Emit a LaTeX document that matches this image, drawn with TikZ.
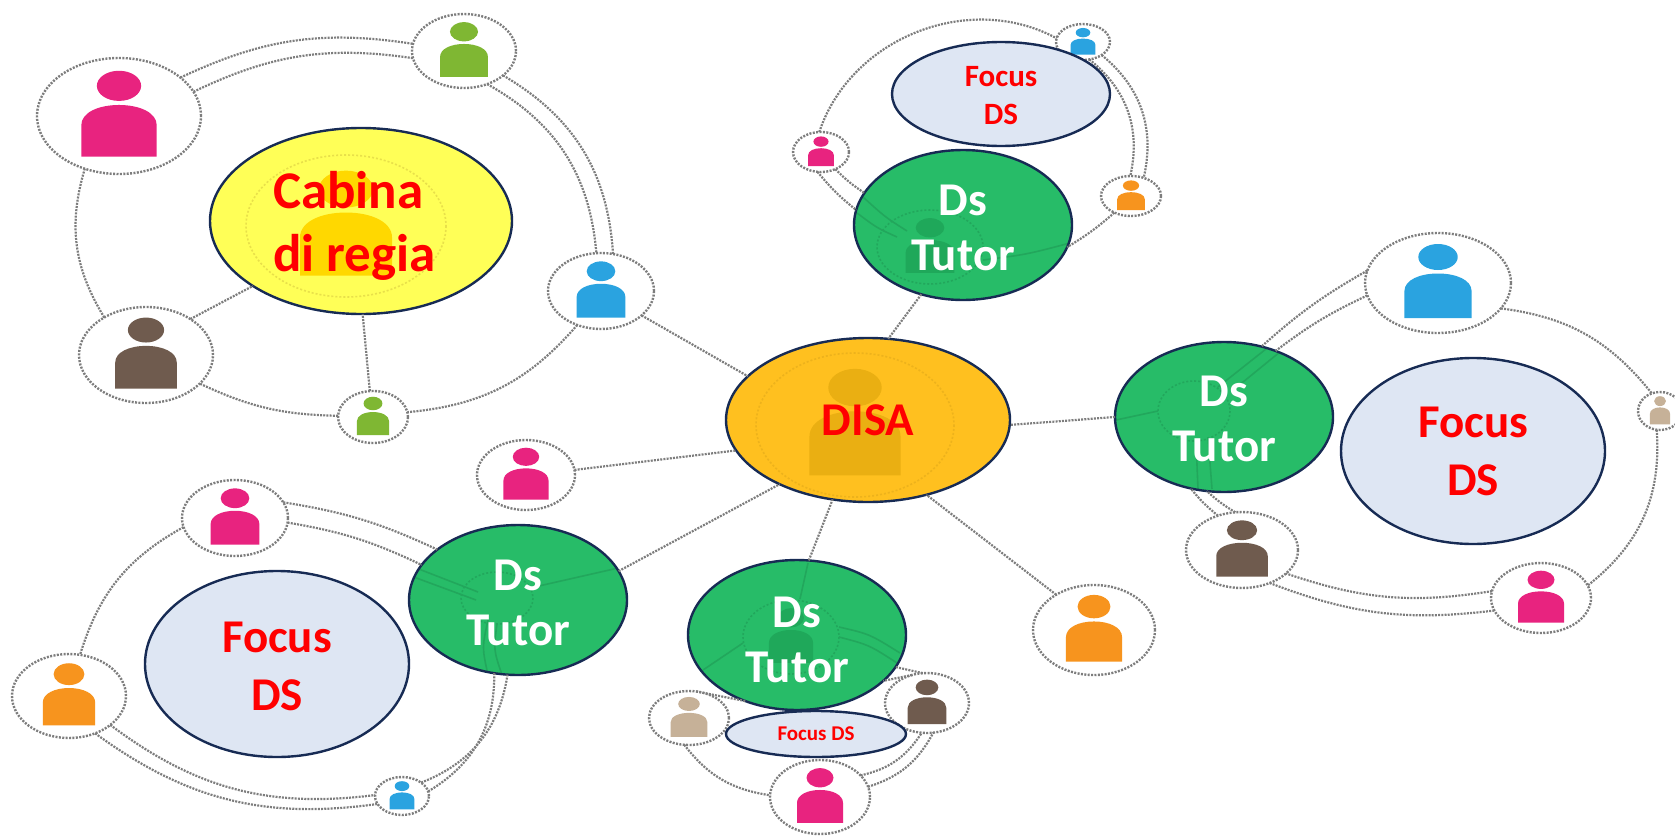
\documentclass[tikz,border=0pt]{standalone}
\usepackage{fontspec}
\setmainfont{Carlito}[BoldFont={Carlito Bold}]
\usetikzlibrary{shapes.geometric,calc}
\definecolor{linkgray}{HTML}{7D7D7D}
\definecolor{navy}{HTML}{172B54}
\definecolor{focusfill}{HTML}{DEE6F3}
\definecolor{tutorgreen}{HTML}{27BC68}
\definecolor{tutorline}{HTML}{22A75C}
\definecolor{tutorshade}{HTML}{1FA85A}
\definecolor{disaorange}{HTML}{FFC01F}
\definecolor{disashade}{HTML}{EAAF12}
\definecolor{disaline}{HTML}{EDB21C}
\definecolor{regiayellow}{HTML}{FFFF57}
\definecolor{regiashade}{HTML}{FFD800}
\definecolor{regialine}{HTML}{E8E04A}
\definecolor{cpink}{HTML}{E8237F}
\definecolor{cgreen}{HTML}{7FB733}
\definecolor{cblue}{HTML}{2AA3E0}
\definecolor{cbrown}{HTML}{6F5B4E}
\definecolor{corange}{HTML}{F7941E}
\definecolor{cbeige}{HTML}{C6B198}
\tikzset{
  x=1pt,y=-1pt,
  link/.style={draw=linkgray,line width=2.2pt,dash pattern=on 2pt off 1.2pt},
  person ring/.style={ellipse,draw=linkgray,fill=white,line width=2.4pt,dash pattern=on 2pt off 1.4pt,inner sep=0pt,outer sep=0pt},
  blob/.style={ellipse,draw=navy,line width=2.4pt,inner sep=0pt,outer sep=0pt,align=center,font=\bfseries},
  tutor/.style={blob,text=white,minimum width=218pt,minimum height=150pt,font=\bfseries\fontsize{47}{55}\selectfont},
  focus/.style={blob,fill=focusfill,text=red},
  faint/.style={line width=1.6pt}
}
% person icon in a unit box
\newcommand{\icon}[1]{%
  \fill[#1] (-.46,.70) -- (-.46,.16) .. controls (-.46,-.06) and (-.25,-.19) .. (0,-.19)
     .. controls (.25,-.19) and (.46,-.06) .. (.46,.16) -- (.46,.70) -- cycle;
  \fill[#1] (0,-.52) ellipse [x radius=.27,y radius=.26];}
\newcommand{\personat}[6]{%
  \node[person ring,minimum width=#4*2pt,minimum height=#5*2pt] (#1) at (#2,#3) {};
  \begin{scope}[shift={(#2,#3)},xscale=#4,yscale=#5]\icon{#6}\end{scope}}
% fill of a hub with what shows through it, in coordinates relative to its centre
\newcommand{\hubback}[6]{%
  \fill[#5] (#1,#2) ellipse [x radius=#3,y radius=#4];
  \begin{scope}
    \clip (#1,#2) ellipse [x radius=#3,y radius=#4];
    \begin{scope}[shift={(#1,#2)}] #6 \end{scope}
  \end{scope}}
\newcommand{\innerperson}[6]{%
  \begin{scope}[shift={(#1,#2)}]
    \draw[#6,faint,dash pattern=on 2pt off 2pt] (0,0) ellipse [x radius=#3,y radius=#4];
    \begin{scope}[xscale=#3,yscale=#4]\icon{#5}\end{scope}
  \end{scope}}
\newcommand{\il}[3]{\draw[tutorline,faint] (#1) .. controls ($(#1)!.5!(#2)+(#3)$) .. (#2);}
\newcommand{\dn}[1]{\rule{0pt}{#1pt}}
\begin{document}
\begin{tikzpicture}
\useasboundingbox (0,0) rectangle (1675,835);
% --- people
\personat{aPink}{119}{116}{82}{58}{cpink}
\personat{aGreen}{464}{51}{52}{37}{cgreen}
\personat{aBlue}{601}{291}{53}{38}{cblue}
\personat{aBrown}{146}{355}{67}{48}{cbrown}
\personat{aLime}{373}{417}{35}{26}{cgreen}
\personat{bBlue}{1083}{42}{27}{18}{cblue}
\personat{bPink}{821}{152}{28}{20}{cpink}
\personat{bOrange}{1131}{196}{30}{20}{corange}
\personat{cBlue}{1438}{283}{73}{50}{cblue}
\personat{cGray}{1660}{411}{22}{19}{cbeige}
\personat{cPink}{1541}{598}{50}{35}{cpink}
\personat{cBrown}{1242}{550}{56}{38}{cbrown}
\personat{dPink}{235}{518}{53}{38}{cpink}
\personat{dOrange}{69}{696}{57}{42}{corange}
\personat{dBlue}{402}{796}{27}{19}{cblue}
\personat{eBeige}{689}{718}{40}{27}{cbeige}
\personat{eBrown}{927}{703}{42}{30}{cbrown}
\personat{ePink}{820}{797}{50}{37}{cpink}
\personat{fPink}{526}{475}{49}{35}{cpink}
\personat{fOrange}{1094}{630}{61}{45}{corange}
% --- hub fills
\hubback{361}{221}{151}{93}{regiayellow}{\innerperson{-15}{5}{100}{71}{regiashade}{regialine}}
\hubback{868}{420}{142}{82}{disaorange}{\innerperson{-13}{5}{99}{72}{disashade}{disaline}}
\hubback{963}{225}{109}{75}{tutorgreen}{\innerperson{-33}{22}{53}{37}{tutorshade}{tutorline}
   \il{-106,-12}{-66,12}{0,3}\il{-100,-28}{-56,6}{0,3}\il{107,18}{20,35}{0,3}}
\hubback{1224}{417}{109}{75}{tutorgreen}{\innerperson{-30}{-6}{36}{30}{tutorgreen}{tutorline}
   \il{-108,3}{-66,-6}{0,0}\il{-6,-30}{47,-72}{0,0}\il{8,-26}{62,-70}{0,0}
   \il{-28,24}{-26,72}{0,0}\il{-16,20}{-12,72}{0,0}}
\hubback{518}{600}{109}{75}{tutorgreen}{\innerperson{-21}{-2}{36}{26}{tutorgreen}{tutorline}
   \il{-107,-34}{-40,-8}{0,0}\il{-107,-24}{-42,0}{0,0}\il{109,-34}{12,-12}{0,0}
   \il{-16,75}{-21,24}{-6,0}\il{-30,75}{-30,20}{-6,0}}
\hubback{797}{635}{109}{75}{tutorgreen}{\innerperson{-6}{2}{48}{37}{tutorshade}{tutorline}
   \il{11,-72}{3,-36}{0,0}\il{-94,35}{-54,8}{0,0}\il{103,18}{42,-8}{0,-6}\il{103,30}{42,2}{0,-6}}
% --- hub outlines and texts
\node[blob,text=red,align=left,minimum width=302pt,minimum height=186pt,font=\bfseries\fontsize{53}{63}\selectfont] (regia) at (361,221) {\dn{46}Cabina\\di regia\hspace*{13pt}};
\node[blob,text=red,minimum width=284pt,minimum height=164pt,font=\bfseries\fontsize{47}{56}\selectfont] (disa) at (868,420) {DISA};
\node[tutor] (tutorTop) at (963,225) {\dn{36}Ds\\Tutor};
\node[tutor] (tutorRight) at (1224,417) {\dn{34}Ds\\Tutor};
\node[tutor] (tutorLeft) at (518,600) {\dn{37}Ds\\Tutor};
\node[tutor] (tutorBottom) at (797,635) {\dn{40}Ds\\Tutor};
% --- ring around Cabina di regia
\draw[link] (aPink.32) to[bend left=17] (aGreen.172);
\draw[link] (aPink.18) to[bend left=17] (aGreen.188);
\draw[link] (aGreen.-32) to[bend left=28] (aBlue.72);
\draw[link] (aGreen.-55) to[bend left=28] (aBlue.97);
\draw[link] (aBlue.-125) to[bend left=22] (aLime.8);
\draw[link] (aLime.178) to[bend left=12] (aBrown.-28);
\draw[link] (aBrown.138) to[bend left=24] (aPink.-123);
\draw[link] (aBrown.39) -- (regia.-149);
\draw[link] (aLime.97) -- (regia.-89);
% --- top group
\draw[link] (bPink.95) to[bend left=50] (bBlue.172);
\draw[link] (bBlue.-35) to[bend left=32] (bOrange.55);
\draw[link] (bBlue.-70) to[bend left=32] (bOrange.92);
\draw[link] (bOrange.-135) to[bend left=5] (tutorTop.-12);
\draw[link] (bPink.-100) to[bend right=6] (tutorTop.172);
\draw[link] (bPink.-50) to[bend right=6] (tutorTop.162);
% --- right group
\draw[link] (cBlue.170) to[bend right=6] (tutorRight.62);
\draw[link] (cBlue.190) to[bend right=6] (tutorRight.52);
\draw[link] (cBlue.-22) to[bend left=22] (cGray.115);
\draw[link] (cGray.-100) to[bend left=28] (cPink.15);
\draw[link] (cPink.172) to[bend left=14] (cBrown.-28);
\draw[link] (cPink.-165) to[bend left=14] (cBrown.-50);
\draw[link] (cBrown.125) to[bend left=6] (tutorRight.-115);
\draw[link] (cBrown.100) to[bend left=6] (tutorRight.-103);
% --- left group
\draw[link] (dPink.18) to[bend left=8] (tutorLeft.148);
\draw[link] (dPink.-5) to[bend left=8] (tutorLeft.160);
\draw[link] (dPink.190) to[bend right=22] (dOrange.75);
\draw[link] (dOrange.-35) to[bend right=22] (dBlue.178);
\draw[link] (dOrange.-55) to[bend right=22] (dBlue.198);
\draw[link] (dBlue.35) to[bend right=30] (tutorLeft.-98);
\draw[link] (dBlue.10) to[bend right=30] (tutorLeft.-108);
% --- bottom group
\draw[link] (eBeige.75) to (tutorBottom.-128);
\draw[link] (eBeige.-100) to[bend right=22] (ePink.178);
\draw[link] (ePink.28) to[bend right=22] (eBrown.-100);
\draw[link] (ePink.12) to[bend right=22] (eBrown.-78);
\draw[link] (eBrown.118) to (tutorBottom.-28);
\draw[link] (eBrown.98) to (tutorBottom.-18);
% --- links to DISA
\draw[link] (aBlue.-31) -- (disa.160);
\draw[link] (tutorTop.-121) -- (disa.76);
\draw[link] (tutorRight.180) -- (disa.-2);
\draw[link] (tutorLeft.16) -- (disa.-144);
\draw[link] (tutorBottom.81) -- (disa.-114);
\draw[link] (fPink.6) -- (disa.-167);
\draw[link] (fOrange.137) -- (disa.-52);
% --- focus ovals
\node[focus,minimum width=218pt,minimum height=104pt,font=\bfseries\fontsize{31}{38}\selectfont] (focusTop) at (1001,94) {\dn{24}Focus\\DS};
\node[focus,minimum width=264pt,minimum height=186pt,font=\bfseries\fontsize{47}{58}\selectfont] (focusRight) at (1473,451) {Focus\\DS};
\node[focus,minimum width=264pt,minimum height=186pt,font=\bfseries\fontsize{47}{58}\selectfont] (focusLeft) at (277,664) {\dn{36}Focus\\DS};
\node[focus,minimum width=180pt,minimum height=46pt,font=\bfseries\fontsize{21}{25}\selectfont] (focusBottom) at (816,734) {Focus DS};
\end{tikzpicture}
\end{document}
